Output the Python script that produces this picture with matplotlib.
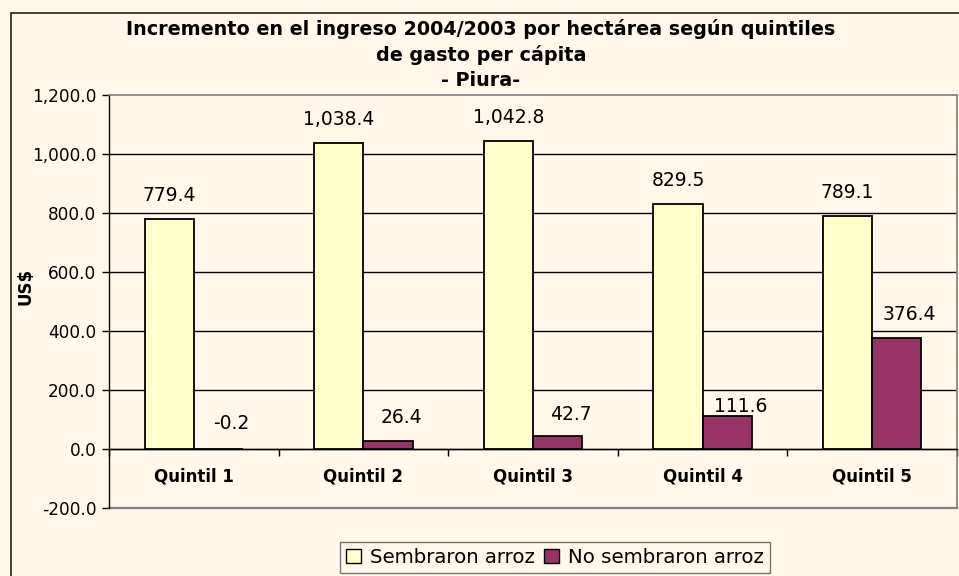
import matplotlib
matplotlib.use("Agg")
import matplotlib.pyplot as plt
import numpy as np
from matplotlib.patches import Rectangle, Patch

categories = ["Quintil 1", "Quintil 2", "Quintil 3", "Quintil 4", "Quintil 5"]
sembraron = [779.4, 1038.4, 1042.8, 829.5, 789.1]
no_sembraron = [-0.2, 26.4, 42.7, 111.6, 376.4]
series_names = ["Sembraron arroz", "No sembraron arroz"]
title = "Incremento en el ingreso 2004/2003 por hectárea según quintiles\nde gasto per cápita\n- Piura-"
ylabel = "US$"
yticks = [-200, 0, 200, 400, 600, 800, 1000, 1200]

bg = "#FFF7E9"
c_yellow = "#FFFFCC"
c_maroon = "#993366"

plt.rcParams['font.family'] = ['DejaVu Sans']

W, H = 959, 576
fig = plt.figure(figsize=(W / 100, H / 100), dpi=100)
fig.patch.set_facecolor(bg)

# outer chart frame
fig.patches.append(Rectangle((11 / W, -0.1), 1.2, 1 - 13 / H + 0.1,
                             transform=fig.transFigure, fill=False,
                             edgecolor="#222222", linewidth=1.2))

ax = fig.add_axes([109 / W, 1 - 508 / H, (957 - 109) / W, (508 - 95) / H])
ax.set_facecolor(bg)

x = np.arange(len(categories))
bw = 0.29
ax.bar(x - bw / 2, sembraron, bw, color=c_yellow, edgecolor="black", linewidth=1.3, zorder=3)
ax.bar(x + bw / 2, no_sembraron, bw, color=c_maroon, edgecolor="black", linewidth=1.3, zorder=3)

ax.set_xlim(-0.5, len(categories) - 0.5)
ax.set_ylim(-200, 1200)
ax.set_yticks(yticks)
ax.set_yticklabels([f"{v:,.1f}" for v in yticks], fontsize=12.2)
ax.tick_params(axis='y', direction='out', length=5, width=1, pad=4)

for v in yticks[1:-1]:
    ax.axhline(v, color="black", linewidth=1, zorder=1)

for s in ["top", "right"]:
    ax.spines[s].set_color("#808080")
    ax.spines[s].set_linewidth(1.2)
ax.spines["left"].set_color("black")
ax.spines["left"].set_linewidth(1)
ax.spines["bottom"].set_position(("data", 0))
ax.spines["bottom"].set_color("black")
ax.spines["bottom"].set_linewidth(1)
ax.axhline(-200, color="#808080", linewidth=1.6, zorder=2, clip_on=False)

ax.set_xticks(x)
ax.set_xticklabels(categories, fontsize=12, fontweight="bold")
ax.tick_params(axis='x', which='major', length=0, pad=13)
ax.set_xticks(np.arange(len(categories) + 1) - 0.5, minor=True)
ax.tick_params(axis='x', which='minor', direction='out', length=5, width=1)

ax.set_ylabel(ylabel, fontsize=12, fontweight="bold")
ax.yaxis.set_label_coords(-(109 - 34) / (957 - 109), (508 - 286) / (508 - 95))

label_offsets_1 = [14, 14, 14, 14, 14]
label_offsets_2 = [16, 14, 12, 0, 14]
for i, v in enumerate(sembraron):
    ax.annotate(f"{v:,.1f}", (x[i] - bw / 2, max(v, 0)), xytext=(0, label_offsets_1[i]),
                textcoords="offset pixels", ha="center", va="bottom", fontsize=13.5)
for i, v in enumerate(no_sembraron):
    ax.annotate(f"{v:,.1f}", (x[i] + bw / 2, max(v, 0)), xytext=(13, label_offsets_2[i]),
                textcoords="offset pixels", ha="center", va="bottom", fontsize=13.5)

fig.text(481 / W, 1 - 19 / H, title, ha="center", va="top", fontsize=13.8,
         fontweight="bold", linespacing=1.38)

handles = [Patch(facecolor=c_yellow, edgecolor="black", linewidth=1),
           Patch(facecolor=c_maroon, edgecolor="black", linewidth=1)]
leg = fig.legend(handles, series_names, loc="upper center",
                 bbox_to_anchor=(555 / W, 1 - 542 / H), ncol=2, fontsize=14.2,
                 frameon=True, fancybox=False, handlelength=0.75, handleheight=0.75,
                 handletextpad=0.45, columnspacing=0.5, borderpad=0.3, borderaxespad=0)
leg.get_frame().set_edgecolor("#555555")
leg.get_frame().set_facecolor(bg)
leg.get_frame().set_linewidth(1)

fig.savefig("out.png", dpi=100, facecolor=bg)
